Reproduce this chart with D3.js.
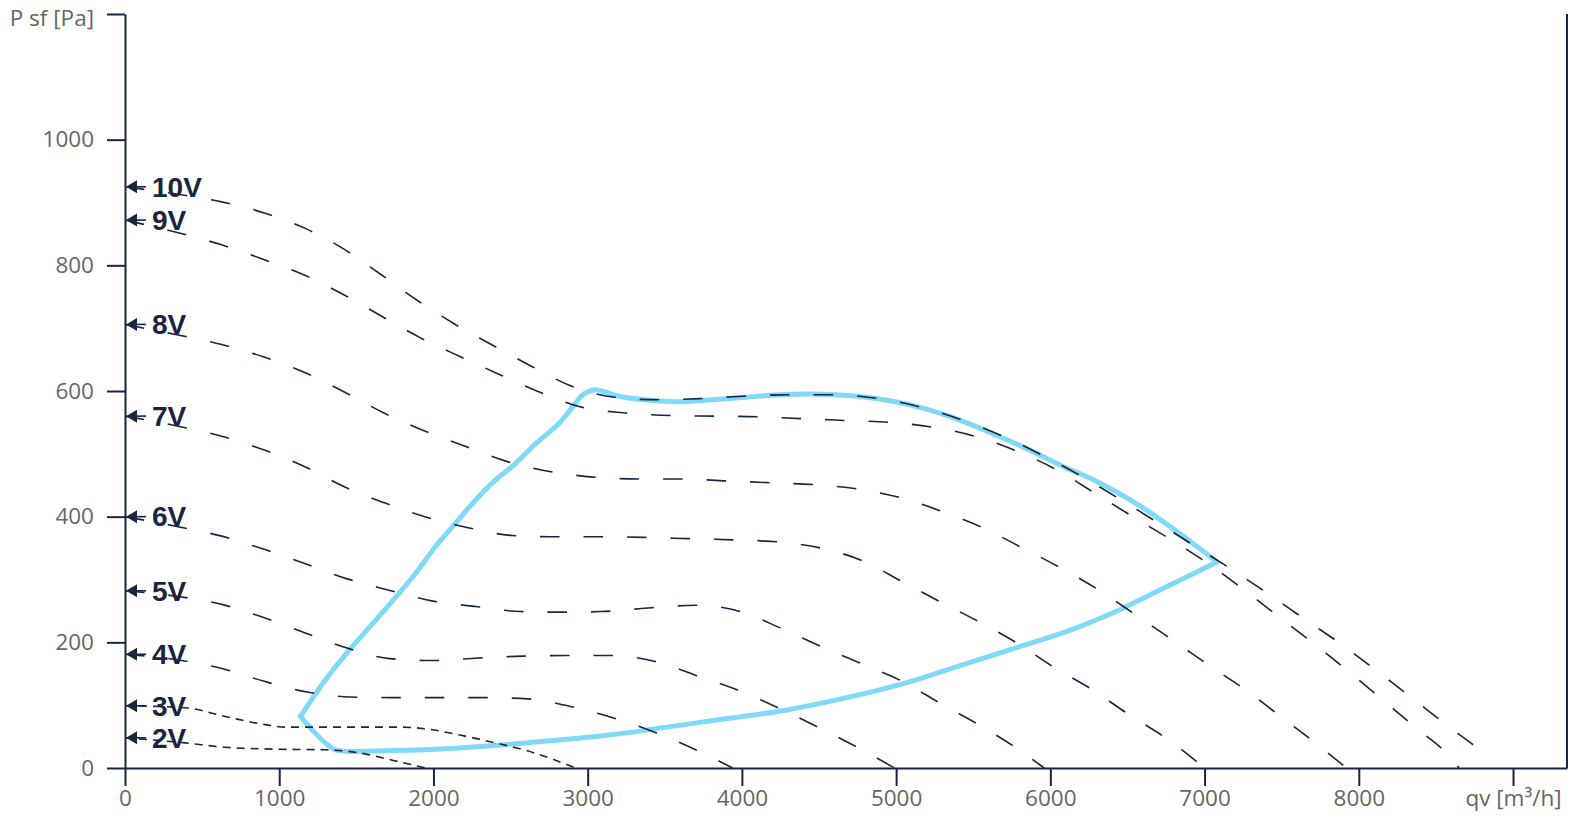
<!DOCTYPE html>
<html>
<head>
<meta charset="utf-8">
<script src="https://cdn.jsdelivr.net/npm/d3@7/dist/d3.min.js"></script>
<style>
  body { margin: 0; background: #fff; }
  svg { display: block; }
</style>
</head>
<body>
<div id="chart"></div>
<script>
// fan curves, [qv m3/h, P sf Pa]
const volts = ["10V", "9V", "8V", "7V", "6V", "5V", "4V", "3V", "2V"];
const v10 = [[0,925],[345,913],[627,901],[909,883],[1176,858],[1425,825],[1662,785],[1896,744],[2134,707],[2390,672],[2638,639],[2893,608],[3175,590],[3457,586],[3739,588],[4027,592],[4313,594],[4602,594],[4884,588],[5166,574],[5437,553],[5702,527],[5962,496],[6211,463],[6457,427],[6700,390],[6944,352],[7176,316],[7420,276],[7654,236],[7892,196],[8120,154],[8348,111],[8571,68],[8799,26],[8860,14]];
const v9 = [[0,872],[345,852],[621,833],[891,810],[1158,785],[1412,754],[1664,719],[1913,685],[2171,655],[2431,626],[2691,598],[2963,574],[3247,565],[3535,561],[3817,560],[4103,559],[4390,556],[4678,553],[4964,550],[5247,542],[5524,527],[5795,503],[6038,475],[6298,436],[6541,399],[6786,363],[7025,325],[7253,284],[7480,241],[7708,198],[7931,154],[8152,109],[8370,64],[8586,19],[8650,0]];
const v8 = [[0,706],[345,689],[627,674],[902,654],[1169,629],[1425,598],[1679,565],[1935,537],[2206,512],[2475,488],[2752,472],[3034,463],[3323,460],[3609,460],[3895,457],[4183,454],[4466,451],[4750,444],[5030,430],[5300,408],[5565,382],[5821,350],[6077,317],[6309,284],[6558,243],[6797,203],[7031,163],[7267,124],[7498,81],[7723,39],[7920,0]];
const v7 = [[0,560],[345,544],[627,528],[904,506],[1163,480],[1418,448],[1683,422],[1956,399],[2232,382],[2514,370],[2800,368],[3088,368],[3370,367],[3659,365],[3945,363],[4227,360],[4513,350],[4780,330],[5036,297],[5290,264],[5543,232],[5789,198],[6031,159],[6270,125],[6515,84],[6753,47],[7000,0]];
const v6 = [[0,400],[345,384],[627,369],[902,348],[1169,325],[1440,301],[1711,283],[1989,266],[2275,257],[2561,249],[2850,248],[3088,249],[3414,255],[3707,259],[3988,249],[4249,223],[4509,194],[4775,166],[5040,138],[5286,103],[5535,69],[5778,32],[5960,0]];
const v5 = [[0,282],[345,273],[634,260],[904,239],[1169,215],[1440,191],[1716,174],[2004,171],[2290,175],[2579,178],[2865,179],[3154,179],[3431,170],[3707,147],[3973,124],[4234,96],[4494,65],[4748,33],[4990,0]];
const v4 = [[0,181],[345,172],[634,158],[902,138],[1180,121],[1462,113],[1744,112],[2030,112],[2319,112],[2611,110],[2889,98],[3121,83],[3435,57],[3700,29],[3940,0]];
const v3 = [[0,99],[389,96],[649,82],[909,69],[1039,65],[1299,65],[1800,65],[1960,62],[2180,52],[2400,40],[2600,28],[2750,16],[2920,0]];
const v2 = [[0,48],[389,40],[649,33],[974,30],[1299,29],[1520,24],[1740,12],[1950,0]];
const fanCurves = [v10, v9, v8, v7, v6, v5, v4, v3, v2];

// working range envelope (blue)
const envelopeTop = [[1137,82],[1299,140],[1473,193],[1646,241],[1776,278],[1885,310],[2015,353],[2145,390],[2275,427],[2405,459],[2525,483],[2666,517],[2817,549],[2904,575],[2969,594],[3045,602],[3120,598],[3197,592],[3370,586],[3587,583],[3804,586],[4021,590],[4238,594],[4498,595],[4737,592],[4997,583],[5214,570],[5431,552],[5647,530],[5865,506],[6081,480],[6276,459],[6601,414],[6949,353],[7080,328]];
const envelopeBottom = [[7080,328],[6900,306],[6700,282],[6450,252],[6125,219],[5800,193],[5365,159],[5040,134],[4715,114],[4281,92],[3739,73],[3121,52],[2600,40],[2167,32],[1733,28],[1364,29],[1299,40],[1213,61],[1137,82]];

const xTicks = [0, 1000, 2000, 3000, 4000, 5000, 6000, 7000, 8000, 9000];
const yTicks = [0, 200, 400, 600, 800, 1000, 1200];
const xTitle = "qv [m³/h]";
const yTitle = "P sf [Pa]";

const width = 1584, height = 828;
const navy = "#1b2440";

const svg = d3.select("#chart").append("svg")
    .attr("width", width)
    .attr("height", height);

const x = d3.scaleLinear().domain([0, 9350]).range([125, 1567]);
const y = d3.scaleLinear().domain([0, 1200]).range([768, 14]);

// axes
const xAxis = svg.append("g")
    .attr("transform", "translate(0," + y(0) + ")")
    .call(d3.axisBottom(x).tickValues(xTicks).tickSize(18).tickSizeOuter(0).tickPadding(4)
        .tickFormat(d => d === 9000 ? xTitle : d));

const yAxis = svg.append("g")
    .attr("transform", "translate(" + x(0) + ",0)")
    .call(d3.axisLeft(y).tickValues(yTicks).tickSize(18).tickSizeOuter(0).tickPadding(13)
        .tickFormat(d => d === 1200 ? yTitle : d));

[xAxis, yAxis].forEach(g => {
    g.select(".domain").attr("stroke", navy).attr("stroke-width", 2);
    g.selectAll(".tick line").attr("stroke", navy).attr("stroke-width", 2);
    g.selectAll(".tick text")
        .attr("fill", "#666")
        .style("font-family", "'Open Sans', sans-serif")
        .style("font-size", "22.5px");
});
// keep the axis title inside the page
yAxis.selectAll(".tick text").filter(d => d === 1200).attr("dy", "0.5em");

// right frame line
svg.append("line")
    .attr("x1", x.range()[1]).attr("x2", x.range()[1])
    .attr("y1", y(1200)).attr("y2", y(0))
    .attr("stroke", navy).attr("stroke-width", 2);

// blue envelope under the dashed curves
const envLine = d3.line()
    .x(d => x(d[0]))
    .y(d => y(d[1]))
    .curve(d3.curveCatmullRom.alpha(0.5));

[envelopeTop, envelopeBottom].forEach(pts => {
    svg.append("path")
        .attr("d", envLine(pts))
        .attr("fill", "none")
        .attr("stroke", "#80d9f8")
        .attr("stroke-width", 5)
        .attr("stroke-linecap", "round")
        .attr("stroke-linejoin", "round");
});

// dashed fan curves
const fanLine = d3.line()
    .x(d => x(d[0]))
    .y(d => y(d[1]))
    .curve(d3.curveMonotoneX);

fanCurves.forEach((pts, i) => {
    svg.append("path")
        .attr("d", fanLine(pts))
        .attr("fill", "none")
        .attr("stroke", navy)
        .attr("stroke-width", 1.6)
        .attr("stroke-dasharray", i >= 7 ? "8,6" : "19.5,24");
});

// arrows + voltage labels at the start of each curve
fanCurves.forEach((pts, i) => {
    const x0 = x(pts[0][0]), y0 = y(pts[0][1]);
    const g = svg.append("g");
    g.append("line")
        .attr("x1", x0 + 10).attr("x2", x0 + 21)
        .attr("y1", y0).attr("y2", y0)
        .attr("stroke", navy).attr("stroke-width", 1.6);
    g.append("path")
        .attr("d", "M" + (x0 + 1) + "," + y0 + "L" + (x0 + 12) + "," + (y0 - 6.5) + "L" + (x0 + 12) + "," + (y0 + 6.5) + "Z")
        .attr("fill", navy);
    g.append("text")
        .attr("x", x0 + 27)
        .attr("y", y0)
        .attr("dy", "0.35em")
        .attr("fill", navy)
        .style("font-family", "'Liberation Sans', Arial, sans-serif")
        .style("font-weight", "bold")
        .style("font-size", "28px")
        .text(volts[i]);
});
</script>
</body>
</html>
